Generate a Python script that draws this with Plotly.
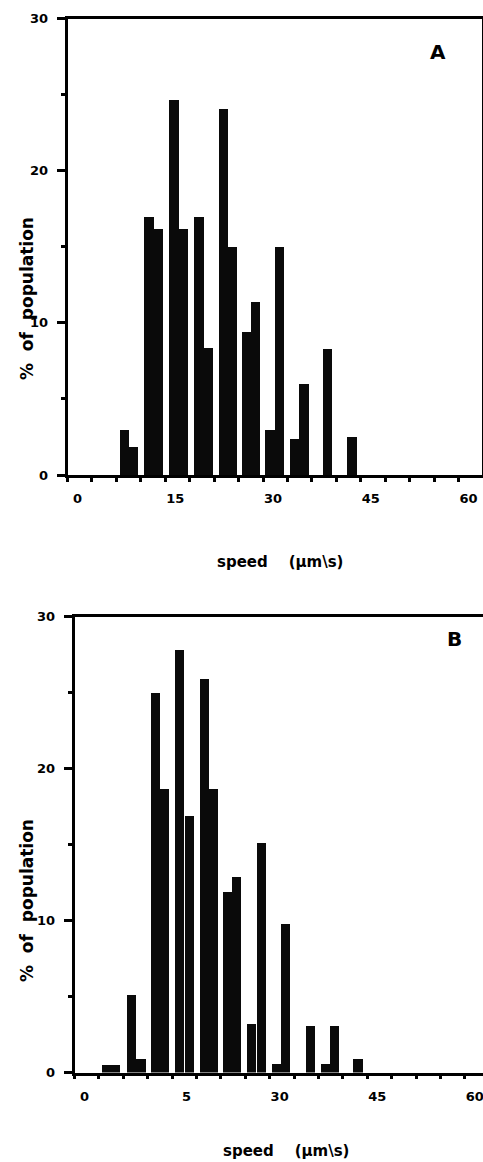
import plotly.graph_objects as go

# ---- data ----
speed_a = [8.68, 10.09, 12.46, 13.92, 16.27, 17.70, 20.07, 21.48, 23.83, 25.23,
           27.38, 28.80, 30.97, 32.48, 34.75, 36.21, 39.84, 43.59]
pct_a = [3.0, 1.9, 17.0, 16.2, 24.7, 16.2, 17.0, 8.4, 24.1, 15.0,
         9.4, 11.4, 3.0, 15.0, 2.4, 6.0, 8.3, 2.5]

speed_b = [4.84, 6.25, 8.70, 10.14, 12.37, 13.78, 16.10, 17.60, 19.92, 21.32,
           23.40, 24.83, 27.12, 28.63, 30.99, 32.40, 36.17, 38.51, 39.86, 43.50]
pct_b = [0.5, 0.5, 5.1, 0.9, 25.0, 18.7, 27.8, 16.9, 25.9, 18.7,
         11.9, 12.9, 3.2, 15.1, 0.6, 9.8, 3.1, 0.6, 3.1, 0.9]

x_tickvals = [0, 15, 30, 45, 60]
x_ticktext_a = ["0", "15", "30", "45", "60"]
x_ticktext_b = ["0", "\u20075", "30", "45", "60"]
y_tickvals = [0, 10, 20, 30]
y_ticktext = ["0", "10", "20", "30"]

W, H = 483, 1162
FONT = "DejaVu Sans"


def px_x(p):
    return p / W


def px_y(p):
    return 1 - p / H


fig = go.Figure()
fig.add_trace(go.Bar(x=speed_a, y=pct_a, width=1.45, marker=dict(color="#0a0a0a", line=dict(width=0)),
                     xaxis="x", yaxis="y", showlegend=False))
fig.add_trace(go.Bar(x=speed_b, y=pct_b, width=1.45, marker=dict(color="#0a0a0a", line=dict(width=0)),
                     xaxis="x2", yaxis="y2", showlegend=False))

tickfont = dict(family=FONT, size=13, color="black", weight="bold")


def xaxis(domain, rng, ticktext, anchor):
    return dict(domain=domain, range=rng, anchor=anchor, tickmode="array", tickvals=x_tickvals,
                ticktext=ticktext, ticks="outside", ticklen=4, tickwidth=2.5, tickcolor="black",
                minor=dict(tickmode="linear", tick0=0, dtick=3.75, ticks="outside", ticklen=4,
                           tickwidth=2.5, tickcolor="black"),
                showline=True, linewidth=2.5, linecolor="black", mirror=True,
                showgrid=False, zeroline=False, tickfont=tickfont, automargin=False,
                ticklabelshift=10, ticklabelstandoff=6, ticklabeloverflow="allow",
                fixedrange=True)


def yaxis(domain, anchor, mirror):
    return dict(domain=domain, range=[0, 30], anchor=anchor, tickmode="array", tickvals=y_tickvals,
                ticktext=y_ticktext, ticks="outside", ticklen=8, tickwidth=2.5, tickcolor="black",
                minor=dict(tickmode="linear", tick0=0, dtick=5, ticks="outside", ticklen=4,
                           tickwidth=2.5, tickcolor="black"),
                showline=True, linewidth=2.5, linecolor="black", mirror=mirror,
                showgrid=False, zeroline=False, tickfont=tickfont, automargin=False,
                ticklabelstandoff=6, fixedrange=True)


fig.update_layout(
    template="none",
    width=W, height=H,
    margin=dict(l=0, r=0, t=0, b=0, pad=0, autoexpand=False),
    paper_bgcolor="white", plot_bgcolor="white",
    bargap=0,
    xaxis=xaxis([px_x(67.5), px_x(482)], [0, 63.6], x_ticktext_a, "y"),
    yaxis=yaxis([px_y(475), px_y(18.5)], "x", True),
    xaxis2=xaxis([px_x(74.5), 1.0], [0, 62.8], x_ticktext_b, "y2"),
    yaxis2=yaxis([px_y(1072.5), px_y(616.5)], "x2", False),
)

ann_font = dict(family=FONT, color="black", weight="bold")
annotations = [
    dict(text="A", x=px_x(438), y=px_y(52), font=dict(size=20, **ann_font)),
    dict(text="B", x=px_x(454), y=px_y(639), font=dict(size=20, **ann_font)),
    dict(text="speed\u00a0\u00a0\u00a0\u00a0(\u00b5m\\s)", x=px_x(280), y=px_y(562), font=dict(size=15, **ann_font)),
    dict(text="speed\u00a0\u00a0\u00a0\u00a0(\u00b5m\\s)", x=px_x(286), y=px_y(1151), font=dict(size=15, **ann_font)),
    dict(text="%\u00a0 of\u00a0 population", x=px_x(27), y=px_y(299), textangle=-90, font=dict(size=17, **ann_font)),
    dict(text="%\u00a0 of\u00a0 population", x=px_x(27), y=px_y(901), textangle=-90, font=dict(size=17, **ann_font)),
]
for a in annotations:
    a.update(xref="paper", yref="paper", showarrow=False, xanchor="center", yanchor="middle")
fig.update_layout(annotations=annotations)

fig.write_html(
    "out.html",
    config={"displayModeBar": False, "responsive": False},
    post_script="document.body.style.margin='0';document.body.style.overflow='hidden';",
)
